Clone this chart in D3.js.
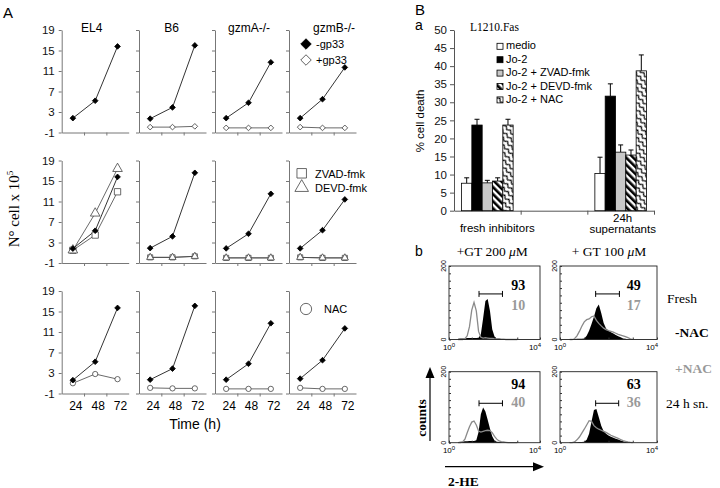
<!DOCTYPE html>
<html><head><meta charset="utf-8">
<script src="https://cdn.jsdelivr.net/npm/d3@7"></script>
<style>body{margin:0;background:#fff}svg{display:block}</style>
</head><body>
<svg id="c" width="720" height="488"></svg>
<script>
// ---------------- DATA ----------------
// Panel A
const times = [24, 48, 72];
const strains = ["EL4", "B6", "gzmA-/-", "gzmB-/-"];
const yTicksA = [-1, 3, 7, 11, 15, 19];
// row 1: -gp33 / +gp33
const r1Minus = [[1.8, 5.2, 15.8], [1.7, 3.9, 16.0], [1.8, 4.8, 12.7], [1.8, 5.5, 11.7]];
const r1Plus = [null, [0.05, 0.05, 0.2], [-0.1, -0.1, -0.1], [0.05, -0.1, -0.1]];
// row 2: -gp33 / ZVAD-fmk / DEVD-fmk
const r2Minus = [[1.8, 5.3, 15.8], [1.9, 4.2, 16.6], [1.85, 4.7, 12.5], [1.85, 5.4, 11.4]];
const r2Zvad = [[1.5, 4.45, 12.9], [0.1, 0.1, 0.3], [0, 0, 0], [0.1, 0, 0]];
const r2Devd = [[1.5, 8.7, 17.4], [0.1, 0.1, 0.3], [0, 0, 0], [0.1, 0, 0]];
// row 3: -gp33 / NAC
const r3Minus = [[1.6, 5.2, 15.7], [1.7, 3.85, 16.1], [1.7, 4.8, 12.7], [1.9, 5.5, 11.7]];
const r3Nac = [[1.0, 2.8, 1.8], [0.1, 0, 0], [-0.1, -0.1, -0.1], [0.1, -0.1, -0.1]];

// Panel B a
const barGroups = ["fresh", "gap", "sn"];
const treatments = ["medio", "Jo-2", "Jo-2 + ZVAD-fmk", "Jo-2 + DEVD-fmk", "Jo-2 + NAC"];
const freshVals = [7.6, 23.7, 7.7, 8.2, 23.7];
const freshErr = [1.5, 1.6, 0.7, 0.9, 1.6];
const snVals = [10.3, 31.7, 16.2, 15.4, 38.7];
const snErr = [4.5, 3.4, 2.0, 1.4, 4.4];
const yTicksB = [0, 5, 10, 15, 20, 25, 30, 35, 40, 45, 50];

// Panel B b (histograms, log10 fluorescence bins)
const logBins = [0.4,0.5,0.6,0.7,0.8,0.9,1.0,1.1,1.2,1.3,1.4,1.5,1.6,1.7,1.8,1.9,2.0,2.1,2.2,2.3,2.4,2.5,2.6,2.7,2.8,2.9,3.0];
const histTLgray  = [0,0,0,2,10,35,80,101,78,22,6,4,5,4,3,3,2,2,2,1,1,0,0,0,0,0,0];
const histTLblack = [2,3,3,3,4,4,4,4,4,5,14,58,105,110,78,28,8,3,2,1,1,0,0,0,0,0,0];
const histTRgray  = [0,0,2,10,22,36,48,54,56,62,64,52,44,37,31,27,24,22,20,17,14,12,10,8,5,2,0];
const histTRblack = [1,1,1,2,2,2,3,10,24,42,62,85,95,72,45,30,24,20,16,12,9,6,3,2,1,0,0];
const histBLgray  = [0,0,2,10,28,45,58,61,50,33,30,32,34,35,34,28,18,10,5,3,2,1,0,0,0,0,0];
const histBLblack = [2,3,3,4,4,5,5,5,7,30,80,99,88,65,40,18,6,3,2,1,0,0,0,0,0,0,0];
const histBRgray  = [0,0,2,8,16,27,38,50,62,60,48,42,38,35,32,29,25,21,18,15,12,9,6,4,2,1,0];
const histBRblack = [1,1,1,1,2,2,3,8,25,60,92,95,72,48,32,25,20,17,14,11,9,6,4,2,1,0,0];
const gateLog = [[1.32, 2.35], [1.47, 2.45], [1.32, 2.35], [1.47, 2.42]];
const gateLevel = [124, 124, 111, 111];
const pctMinusNAC = ["93", "49", "94", "63"];
const pctPlusNAC = ["10", "17", "40", "36"];

// ---------------- DRAW ----------------
const svg = d3.select("#c");
const sans = "'Liberation Sans', Arial, sans-serif";
const serif = "'Liberation Serif', 'Times New Roman', serif";
const axisGray = "#777";

function txt(g, x, y, s, o = {}) {
  const t = g.append("text").attr("x", x).attr("y", y)
    .attr("font-family", o.family || sans).attr("font-size", o.size || 11)
    .attr("fill", o.fill || "#000").attr("text-anchor", o.anchor || "start")
    .text(s);
  if (o.weight) t.attr("font-weight", o.weight);
  if (o.rotate) t.attr("transform", `rotate(${o.rotate},${x},${y})`);
  return t;
}

// ===== Panel A =====
const panelX = [61.7, 139, 215, 289];
const panelW = 67;
const rowTop = [30, 160.5, 291];
const rowH = 102.5;

function marker(g, type, cx, cy, size, filled) {
  let sym, rot = 0;
  if (type === "diamond") { sym = d3.symbolSquare; rot = 45; }
  else if (type === "square") sym = d3.symbolSquare;
  else if (type === "triangle") sym = d3.symbolTriangle;
  else sym = d3.symbolCircle;
  g.append("path").attr("d", d3.symbol().type(sym).size(size)())
    .attr("transform", `translate(${cx},${cy}) rotate(${rot})`)
    .attr("fill", filled ? "#000" : "#fff")
    .attr("stroke", filled ? "#000" : "#444").attr("stroke-width", 0.8);
}

function drawPanel(row, col, series) {
  const x0 = panelX[col];
  const g = svg.append("g");
  const x = d3.scaleBand().domain(times).range([x0, x0 + panelW]);
  const y = d3.scaleLinear().domain([-1, 19]).range([rowTop[row] + rowH, rowTop[row]]);
  const ax = d3.axisLeft(y).tickValues(yTicksA).tickSize(3).tickSizeOuter(0)
    .tickFormat(col > 0 ? "" : d => String(d));
  const ga = g.append("g").attr("transform", `translate(${x0},0)`).call(ax);
  ga.selectAll("path,line").attr("stroke", axisGray);
  ga.selectAll("text").attr("font-family", sans).attr("font-size", 11.5).attr("fill", "#111").attr("dx", -1);
  const xl = d3.scaleLinear().domain([0, 3]).range([x0, x0 + panelW]);
  const gb = g.append("g").attr("transform", `translate(0,${y(-1)})`)
    .call(d3.axisBottom(xl).tickValues([1, 2]).tickSize(3).tickSizeOuter(0).tickFormat(""));
  gb.selectAll("path,line").attr("stroke", axisGray);
  if (row === 2) {
    times.forEach(t => txt(g, x(t) + x.bandwidth() / 2 + 3, y(-1) + 16, String(t), { size: 12, anchor: "middle" }));
  }
  const line = d3.line().x((d, i) => x(times[i]) + x.bandwidth() / 2).y(d => y(d));
  series.forEach(s => {
    if (!s.vals) return;
    g.append("path").attr("d", line(s.vals)).attr("fill", "none")
      .attr("stroke", s.filled ? "#000" : "#444").attr("stroke-width", 0.8);
  });
  series.forEach(s => {
    if (!s.vals) return;
    s.vals.forEach((v, i) => marker(g, s.type, x(times[i]) + x.bandwidth() / 2, y(v), s.size, s.filled));
  });
}

strains.forEach((name, c) => {
  drawPanel(0, c, [
    { vals: r1Plus[c], type: "diamond", size: 16, filled: false },
    { vals: r1Minus[c], type: "diamond", size: 16, filled: true }
  ]);
  drawPanel(1, c, [
    { vals: r2Zvad[c], type: "square", size: c === 0 ? 40 : 26, filled: false },
    { vals: r2Devd[c], type: "triangle", size: c === 0 ? 40 : 22, filled: false },
    { vals: r2Minus[c], type: "diamond", size: 16, filled: true }
  ]);
  drawPanel(2, c, [
    { vals: r3Nac[c], type: "circle", size: 22, filled: false },
    { vals: r3Minus[c], type: "diamond", size: 16, filled: true }
  ]);
});
// titles
const titleX = [91.7, 171.7, 249, 334];
strains.forEach((s, i) => txt(svg, titleX[i], 32, s, { size: 12, anchor: "middle" }));
txt(svg, 3, 18, "A", { size: 15 });
// legends
marker(svg, "diamond", 306, 44, 55, true);
txt(svg, 316, 48, "-gp33", { size: 11 });
marker(svg, "diamond", 306, 60, 55, false);
txt(svg, 316, 64, "+gp33", { size: 11 });
marker(svg, "square", 301.7, 173.3, 90, false);
txt(svg, 315, 177.5, "ZVAD-fmk", { size: 11 });
marker(svg, "triangle", 301.7, 187.5, 80, false);
txt(svg, 315, 191.5, "DEVD-fmk", { size: 11 });
marker(svg, "circle", 306, 309, 100, false);
txt(svg, 324, 313, "NAC", { size: 11 });
// axis labels
const yl = txt(svg, 19, 209, "", { family: serif, size: 15, anchor: "middle", rotate: -90 });
yl.append("tspan").text("N° cell x 10");
yl.append("tspan").text("5").attr("font-size", 9).attr("dy", -6);
txt(svg, 195, 429, "Time (h)", { size: 14, anchor: "middle" });

// ===== Panel B a =====
const gB = svg.append("g");
const defs = svg.append("defs");
const pDevd = defs.append("pattern").attr("id", "pDevd").attr("patternUnits", "userSpaceOnUse")
  .attr("width", 5).attr("height", 5).attr("patternTransform", "rotate(-45)");
pDevd.append("rect").attr("width", 5).attr("height", 5).attr("fill", "#fff");
pDevd.append("rect").attr("width", 2.6).attr("height", 5).attr("fill", "#000");
const pNac = defs.append("pattern").attr("id", "pNac").attr("patternUnits", "userSpaceOnUse")
  .attr("width", 6).attr("height", 5).attr("patternTransform", "rotate(45)");
pNac.append("rect").attr("width", 6).attr("height", 5).attr("fill", "#fff");
pNac.append("path").attr("d", "M0,3.5 L3,1 L6,3.5").attr("fill", "none").attr("stroke", "#000").attr("stroke-width", 1.1);
const fills = ["#fff", "#000", "#c8c8c8", "url(#pDevd)", "url(#pNac)"];

const xb = d3.scaleBand().domain(barGroups).range([454, 654]);
const xi = d3.scaleBand().domain(treatments).range([0, 51.6]);
const yb = d3.scaleLinear().domain([0, 50]).range([210.7, 30]);
const gya = gB.append("g").attr("transform", "translate(454,0)")
  .call(d3.axisLeft(yb).tickValues(yTicksB).tickSize(4).tickSizeOuter(0));
gya.selectAll("path,line").attr("stroke", "#555");
gya.selectAll("text").attr("font-family", sans).attr("font-size", 11.5).attr("fill", "#111");
const xlb = d3.scaleLinear().domain([0, 3]).range([454, 654]);
const gxa = gB.append("g").attr("transform", `translate(0,${yb(0)})`)
  .call(d3.axisBottom(xlb).tickValues([1, 2, 3]).tickSize(4).tickSizeOuter(0).tickFormat(""));
gxa.selectAll("path,line").attr("stroke", "#555");

function drawBars(group, vals, errs) {
  const gx = xb(group) + xb.bandwidth() / 2 - 25.8;
  treatments.forEach((t, i) => {
    const bx = gx + xi(t), bw = xi.bandwidth();
    const top = yb(vals[i] + errs[i]);
    gB.append("line").attr("x1", bx + bw / 2).attr("x2", bx + bw / 2)
      .attr("y1", yb(vals[i])).attr("y2", top).attr("stroke", "#000").attr("stroke-width", 1);
    gB.append("line").attr("x1", bx + bw / 2 - 2.5).attr("x2", bx + bw / 2 + 2.5)
      .attr("y1", top).attr("y2", top).attr("stroke", "#000").attr("stroke-width", 1);
    gB.append("rect").attr("x", bx).attr("y", yb(vals[i])).attr("width", bw)
      .attr("height", yb(0) - yb(vals[i])).attr("fill", fills[i])
      .attr("stroke", "#000").attr("stroke-width", 0.8);
  });
}
drawBars("fresh", freshVals, freshErr);
drawBars("sn", snVals, snErr);

txt(gB, xb("fresh") + xb.bandwidth() / 2 + 10, 232, "fresh  inhibitors", { size: 11.5, anchor: "middle" });
txt(gB, xb("sn") + xb.bandwidth() / 2 + 2, 222, "24h", { size: 11.5, anchor: "middle" });
txt(gB, xb("sn") + xb.bandwidth() / 2 + 2, 232.5, "supernatants", { size: 11.5, anchor: "middle" });
txt(gB, 424, 121, "% cell death", { size: 11.5, anchor: "middle", rotate: -90 });
txt(gB, 415, 15, "B", { size: 15 });
txt(gB, 415, 30, "a", { size: 14 });
txt(gB, 470, 31, "L1210.Fas", { family: serif, size: 11.5 });
treatments.forEach((t, i) => {
  const ly = 43.3 + i * 13.4;
  gB.append("rect").attr("x", 497).attr("y", ly).attr("width", 6).attr("height", 6)
    .attr("fill", fills[i]).attr("stroke", "#000").attr("stroke-width", 0.8);
  txt(gB, 506, ly + 6, t, { size: 11 });
});

// ===== Panel B b =====
const gH = svg.append("g");
const boxes = [
  { x0: 449, w: 91, top: 266, bottom: 339.5, gray: histTLgray, black: histTLblack },
  { x0: 560, w: 97, top: 266, bottom: 339.5, gray: histTRgray, black: histTRblack },
  { x0: 449, w: 91, top: 371.7, bottom: 442.7, gray: histBLgray, black: histBLblack },
  { x0: 560, w: 97, top: 371.7, bottom: 442.7, gray: histBRgray, black: histBRblack }
];
boxes.forEach((b, k) => {
  const x = d3.scaleLinear().domain([0, 4]).range([b.x0, b.x0 + b.w]);
  const xlog = d3.scaleLog().domain([1, 1e4]).range([b.x0, b.x0 + b.w]);
  const y = d3.scaleLinear().domain([0, 200]).range([b.bottom, b.top]);
  const g = gH.append("g");
  g.append("path").datum(b.black)
    .attr("d", d3.area().x((d, i) => x(logBins[i])).y0(y(0)).y1(d => y(d)))
    .attr("fill", "#000");
  g.append("path").datum(b.gray)
    .attr("d", d3.line().x((d, i) => x(logBins[i])).y(d => y(d)))
    .attr("fill", "none").attr("stroke", "#8a8a8a").attr("stroke-width", 1.3);
  g.append("rect").attr("x", b.x0).attr("y", b.top).attr("width", b.w).attr("height", b.bottom - b.top)
    .attr("fill", "none").attr("stroke", "#222").attr("stroke-width", 0.9);
  const gl = g.append("g").attr("transform", `translate(${b.x0},0)`)
    .call(d3.axisRight(y).tickValues(d3.range(0, 201, 20)).tickSize(2).tickFormat(""));
  gl.selectAll("path").remove();
  gl.selectAll("line").attr("stroke", "#333");
  const gbx = g.append("g").attr("transform", `translate(0,${b.bottom})`)
    .call(d3.axisTop(xlog).ticks(4).tickSize(2).tickFormat(""));
  gbx.selectAll("path").remove();
  gbx.selectAll("line").attr("stroke", "#333");
  txt(g, b.x0 - 3, y(200), "200", { size: 7, anchor: "middle", rotate: -90 });
  txt(g, b.x0 - 3, y(0), "0", { size: 7, anchor: "middle", rotate: -90 });
  const l0 = txt(g, x(0), b.bottom + 10, "10", { size: 8, anchor: "middle" });
  l0.append("tspan").text("0").attr("font-size", 6).attr("dy", -3);
  const l4 = txt(g, x(4) - 5, b.bottom + 10, "10", { size: 8, anchor: "middle" });
  l4.append("tspan").text("4").attr("font-size", 6).attr("dy", -3);
  const gy = y(gateLevel[k]), gx1 = x(gateLog[k][0]), gx2 = x(gateLog[k][1]);
  g.append("line").attr("x1", gx1).attr("x2", gx2).attr("y1", gy).attr("y2", gy).attr("stroke", "#000").attr("stroke-width", 1);
  [gx1, gx2].forEach(xx => g.append("line").attr("x1", xx).attr("x2", xx).attr("y1", gy - 3).attr("y2", gy + 3).attr("stroke", "#000").attr("stroke-width", 1));
  const tx = b.x0 + b.w * 0.76;
  const upper = k < 2 ? 290 : 388.5;
  const lower = k < 2 ? 310 : 406.5;
  txt(g, tx, upper, pctMinusNAC[k], { family: serif, size: 14, weight: "bold", anchor: "middle" });
  txt(g, tx, lower, pctPlusNAC[k], { family: serif, size: 14, weight: "bold", anchor: "middle", fill: "#999" });
});
txt(gH, 415, 256, "b", { size: 14 });
const t1 = txt(gH, 456.7, 256, "+GT 200 ", { family: serif, size: 13.5 });
t1.append("tspan").text("μ").attr("font-style", "italic");
t1.append("tspan").text("M");
const t2 = txt(gH, 571.7, 256, "+ GT 100 ", { family: serif, size: 13.5 });
t2.append("tspan").text("μ").attr("font-style", "italic");
t2.append("tspan").text("M");
txt(gH, 667, 303, "Fresh", { family: serif, size: 13.5 });
txt(gH, 675, 337, "-NAC", { family: serif, size: 13.5, weight: "bold" });
txt(gH, 675, 373, "+NAC", { family: serif, size: 13.5, weight: "bold", fill: "#999" });
txt(gH, 666, 408, "24 h sn.", { family: serif, size: 13.5 });
txt(gH, 426, 418, "counts", { family: serif, size: 13.5, weight: "bold", anchor: "middle", rotate: -90 });
txt(gH, 448, 486, "2-HE", { family: serif, size: 13.5, weight: "bold" });
gH.append("line").attr("x1", 430).attr("x2", 430).attr("y1", 441).attr("y2", 376).attr("stroke", "#000").attr("stroke-width", 1.2);
gH.append("path").attr("d", "M430,367 L425.5,378 L434.5,378 Z").attr("fill", "#000");
gH.append("line").attr("x1", 445).attr("x2", 535).attr("y1", 466.7).attr("y2", 466.7).attr("stroke", "#000").attr("stroke-width", 1.2);
gH.append("path").attr("d", "M544,466.7 L533,462.2 L533,471.2 Z").attr("fill", "#000");
</script>
</body></html>
